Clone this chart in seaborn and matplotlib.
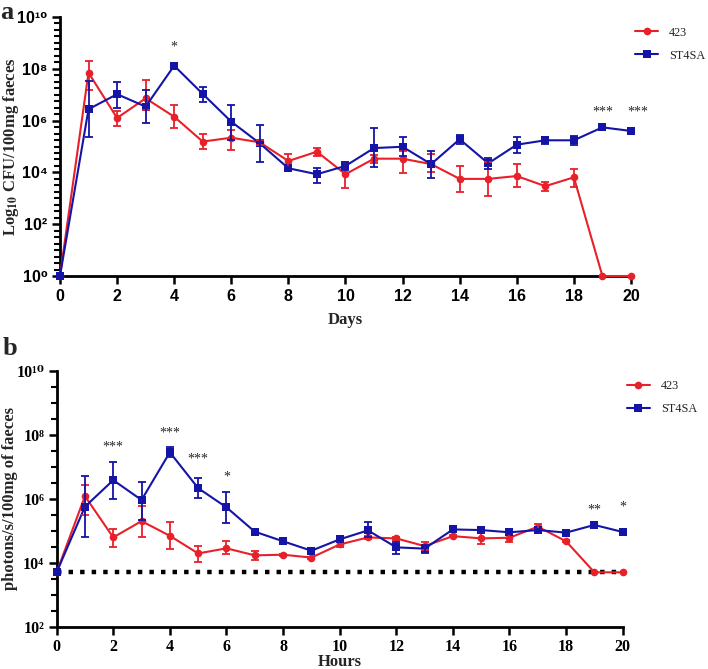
import numpy as np
import pandas as pd
import matplotlib
matplotlib.use("Agg")
import matplotlib.pyplot as plt
import seaborn as sns
from matplotlib.ticker import FixedLocator, FuncFormatter, NullFormatter

sns.set_theme(style="ticks")
plt.rcParams.update({
    'font.family': ['Liberation Serif', 'DejaVu Serif'],
    'mathtext.fontset': 'stix',
    'axes.linewidth': 2,
    'axes.edgecolor': 'black',
})

RED = '#e8202a'
BLUE = '#1414a6'

# ---- panel a: faecal counts, log10 CFU / 100 mg (mean, upper and lower error ends)
days = list(range(21))
a_423 = [0, 7.85, 6.10, 6.86, 6.15, 5.19, 5.34, 5.16, 4.44, 4.80, 3.93,
         4.53, 4.53, 4.32, 3.75, 3.75, 3.86, 3.47, 3.81, 0, 0]
a_423_hi = [0, 8.29, 6.37, 7.57, 6.60, 5.48, 5.64, 5.25, 4.71, 4.94, 4.39,
            4.67, 4.84, 4.71, 4.25, 4.41, 4.31, 3.64, 4.13, 0, 0]
a_423_lo = [0, 7.20, 5.79, 6.40, 5.70, 4.90, 4.85, 5.05, 4.20, 4.65, 3.40,
            4.35, 3.99, 4.00, 3.25, 3.10, 3.44, 3.30, 3.45, 0, 0]
a_st4sa = [0, 6.44, 7.02, 6.54, 8.12, 7.03, 5.96, 5.12, 4.16, 3.93, 4.25,
           4.94, 4.99, 4.32, 5.28, 4.35, 5.07, 5.24, 5.24, 5.74, 5.60]
a_st4sa_hi = [0, 7.53, 7.50, 7.18, 8.24, 7.31, 6.60, 5.83, 4.22, 4.18, 4.39,
              5.70, 5.37, 4.84, 5.46, 4.56, 5.38, 5.38, 5.41, 5.78, 5.64]
a_st4sa_lo = [0, 5.38, 6.50, 5.90, 8.00, 6.73, 5.25, 4.39, 4.10, 3.59, 4.10,
              4.20, 4.63, 3.77, 5.10, 4.15, 4.74, 5.10, 5.07, 5.70, 5.56]
a_star_x = [4, 19, 20.25]
a_star_y = [8.84, 6.33, 6.33]
a_star_txt = ['*', '***', '***']

# ---- panel b: bioluminescence, log10 photons/s/100 mg
hours = list(range(21))
b_423 = [3.70, 6.08, 4.79, 5.30, 4.84, 4.29, 4.45, 4.23, 4.25, 4.16, 4.57,
         4.79, 4.76, 4.52, 4.83, 4.76, 4.78, 5.125, 4.67, 3.70, 3.70]
b_423_hi = [3.70, 6.43, 5.04, 5.77, 5.28, 4.53, 4.69, 4.36, 4.28, 4.19, 4.65,
            4.85, 4.80, 4.65, 4.86, 4.92, 4.90, 5.20, 4.70, 3.70, 3.70]
b_423_lo = [3.70, 5.50, 4.50, 4.79, 4.42, 4.01, 4.26, 4.08, 4.22, 4.13, 4.50,
            4.73, 4.72, 4.40, 4.80, 4.60, 4.65, 5.05, 4.64, 3.70, 3.70]
b_st4sa = [3.70, 5.75, 6.58, 5.96, 7.45, 6.33, 5.73, 4.97, 4.67, 4.375, 4.73,
           5.01, 4.48, 4.44, 5.04, 5.02, 4.95, 5.02, 4.94, 5.18, 4.96]
b_st4sa_hi = [3.70, 6.72, 7.14, 6.53, 7.63, 6.64, 6.22, 5.00, 4.70, 4.40, 4.82,
              5.27, 4.66, 4.55, 5.07, 5.125, 5.00, 5.06, 4.97, 5.21, 4.99]
b_st4sa_lo = [3.70, 4.81, 5.99, 5.33, 7.29, 6.01, 5.25, 4.94, 4.64, 4.35, 4.65,
              4.80, 4.28, 4.31, 5.01, 4.92, 4.90, 4.98, 4.91, 5.15, 4.93]
b_limit = 3.70
b_star_x = [2, 4, 5, 6, 19, 20]
b_star_y = [7.625, 8.04, 7.23, 6.69, 5.65, 5.73]
b_star_txt = ['***', '***', '***', '*', '**', '*']

SUP = str.maketrans('0123456789', '⁰¹²³⁴⁵⁶⁷⁸⁹')


def pow_label(v, pos):
    if v <= 0:
        return ''
    return '10' + str(int(round(np.log10(v)))).translate(SUP)


def draw_panel(ax, x, s1, s1_hi, s1_lo, s2, s2_hi, s2_lo, ymin, minor_step, tick_family):
    df = pd.DataFrame({
        'x': list(x) * 2,
        'value': 10 ** np.array(s1 + s2, dtype=float),
        'strain': ['423'] * len(x) + ['ST4SA'] * len(x),
    })
    sns.lineplot(data=df, x='x', y='value', hue='strain', style='strain',
                 hue_order=['423', 'ST4SA'], markers={'423': 'o', 'ST4SA': 's'},
                 dashes=False, palette={'423': RED, 'ST4SA': BLUE},
                 markersize=5.5, markeredgewidth=0, linewidth=1.5,
                 ax=ax, clip_on=False, zorder=3)
    for mean, hi, lo, col in [(s1, s1_hi, s1_lo, RED), (s2, s2_hi, s2_lo, BLUE)]:
        mean, hi, lo = map(np.array, (mean, hi, lo))
        keep = (hi > mean) | (lo < mean)
        xs = np.array(x)[keep]
        m = 10 ** mean[keep]
        ax.errorbar(xs, m, yerr=[m - 10 ** lo[keep], 10 ** hi[keep] - m],
                    fmt='none', ecolor=col, elinewidth=1.3, capsize=3,
                    capthick=1.3, zorder=3)

    ax.set_yscale('log')
    ax.set_ylim(10 ** ymin, 1e10)
    ax.set_xlim(0, 20)
    ax.set_xticks(range(0, 21, 2))
    ax.yaxis.set_major_locator(FixedLocator([10.0 ** k for k in range(ymin, 11, 2)]))
    minors = [10 ** v for v in np.arange(ymin, 10 + 1e-9, minor_step) if abs(v - round(v / 2) * 2) > 1e-6]
    ax.yaxis.set_minor_locator(FixedLocator(minors))
    ax.yaxis.set_minor_formatter(NullFormatter())
    ax.yaxis.set_major_formatter(FuncFormatter(pow_label))
    sns.despine(ax=ax)
    ax.tick_params(axis='both', which='major', length=6, width=1.8, color='black', pad=3)
    ax.tick_params(axis='y', which='minor', length=4, width=1.5, color='black')
    ax.tick_params(axis='x', which='minor', length=0)
    for t in ax.get_xticklabels() + ax.get_yticklabels():
        t.set_fontfamily(tick_family)
        t.set_fontweight('bold')
        t.set_fontsize(11.5)
        t.set_color('black')
    sns.move_legend(ax, 'upper left', bbox_to_anchor=(0.99, 1.0), frameon=False,
                    title=None, fontsize=8.8, handlelength=1.9, handletextpad=0.9,
                    labelspacing=0.9, borderaxespad=0.4)


fig = plt.figure(figsize=(7.08, 6.69), dpi=100)

# panel a
ax_a = fig.add_axes([0.0847, 0.5874, 0.8065, 0.3872])
draw_panel(ax_a, days, a_423, a_423_hi, a_423_lo, a_st4sa, a_st4sa_hi, a_st4sa_lo,
           0, 0.25, ['Liberation Sans', 'DejaVu Sans'])
ax_a.set_xlabel('Days', fontsize=12, fontweight='bold')
ax_a.xaxis.set_label_coords(0.5, -0.14)
ax_a.set_ylabel(r'Log$_{\mathbf{10}}$ CFU/100mg faeces', fontsize=12, fontweight='bold')
ax_a.yaxis.set_label_coords(-0.068, 0.5)
for sx, sy, st in zip(a_star_x, a_star_y, a_star_txt):
    ax_a.text(sx, 10 ** sy, st, ha='center', va='center', fontsize=10)
fig.text(0.0, 0.998, 'a', fontsize=19, fontweight='bold', va='top', ha='left')

# panel b
ax_b = fig.add_axes([0.0800, 0.0632, 0.7995, 0.3827])
draw_panel(ax_b, hours, b_423, b_423_hi, b_423_lo, b_st4sa, b_st4sa_hi, b_st4sa_lo,
           2, 0.5, ['Liberation Serif', 'DejaVu Serif'])
ax_b.plot(hours, [10 ** b_limit] * len(hours), color='black', linewidth=3.2,
          linestyle=(0, (1, 1.6)), zorder=2, clip_on=False)
ax_b.set_xlabel('Hours', fontsize=12, fontweight='bold')
ax_b.xaxis.set_label_coords(0.5, -0.105)
ax_b.set_ylabel('photons/s/100mg of faeces', fontsize=12, fontweight='bold')
ax_b.yaxis.set_label_coords(-0.069, 0.5)
for sx, sy, st in zip(b_star_x, b_star_y, b_star_txt):
    ax_b.text(sx, 10 ** sy, st, ha='center', va='center', fontsize=10)
fig.text(0.003, 0.497, 'b', fontsize=19, fontweight='bold', va='top', ha='left')

fig.savefig('out.png', dpi=100)
